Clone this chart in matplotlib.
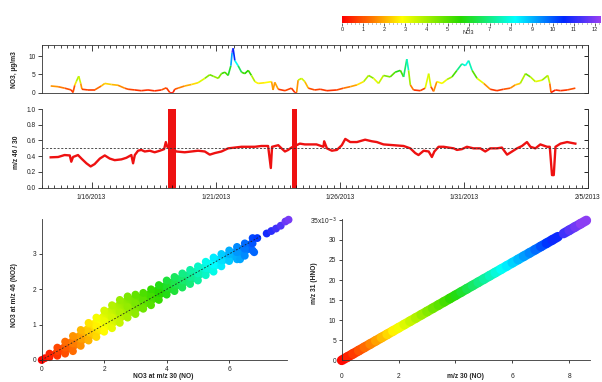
import numpy as np
import matplotlib
matplotlib.use("Agg")
import matplotlib.pyplot as plt
import matplotlib.dates as mdates
from matplotlib.collections import LineCollection
from matplotlib.colors import LinearSegmentedColormap, Normalize
from matplotlib.cm import ScalarMappable
from matplotlib.patches import Polygon
from matplotlib.ticker import MultipleLocator, FixedLocator, FuncFormatter
import datetime as dt

plt.rcParams["font.family"] = ["Liberation Sans", "DejaVu Sans"]

# --- data (day = day of Jan 2013, fractional; 32 = Feb 1) ---
no3_day = [14.35, 14.65, 14.91, 15.18, 15.25, 15.32, 15.38, 15.48, 15.56, 15.61,
           15.85, 16.12, 16.39, 16.53, 16.80, 17.06, 17.33, 17.47, 17.74, 18.00,
           18.27, 18.54, 18.81, 19.01, 19.15, 19.28, 19.35, 19.48, 19.75, 20.02,
           20.29, 20.56, 20.76, 20.90, 21.10, 21.23, 21.37, 21.50, 21.61, 21.66,
           21.70, 21.77, 21.90, 22.04, 22.17, 22.31, 22.44, 22.58, 22.71, 22.98,
           23.25, 23.31, 23.38, 23.52, 23.79, 24.05, 24.19, 24.26, 24.32, 24.46,
           24.59, 24.73, 24.99, 25.21, 25.48, 25.88, 26.15, 26.42, 26.69, 26.96,
           27.16, 27.36, 27.56, 27.76, 28.03, 28.23, 28.44, 28.57, 28.70, 28.77,
           28.84, 28.97, 29.24, 29.44, 29.58, 29.67, 29.78, 29.91, 30.12, 30.32,
           30.52, 30.72, 30.92, 31.06, 31.19, 31.33, 31.53, 31.80, 32.06, 32.33,
           32.60, 32.87, 33.07, 33.27, 33.48, 33.68, 33.88, 34.15, 34.38, 34.46,
           34.51, 34.69, 34.89, 35.16, 35.49]
no3_val = [1.8, 1.6, 1.2, 0.7, 0.0, 2.0, 3.0, 4.5, 2.5, 0.9,
           0.7, 0.7, 1.8, 2.5, 2.2, 2.0, 1.2, 0.9, 0.7, 0.5,
           0.7, 0.45, 0.7, 1.3, 0.0, 0.0, 0.9, 1.2, 1.8, 2.2,
           2.7, 3.9, 4.9, 4.5, 3.9, 5.2, 5.6, 4.7, 7.4, 11.0,
           12.2, 8.8, 7.4, 5.6, 5.2, 6.1, 4.7, 3.0, 2.5, 2.7,
           3.0, 0.7, 2.8, 0.9, 0.5, 1.2, 0.0, 0.0, 3.4, 3.9,
           3.0, 1.2, 0.7, 0.9, 0.5, 0.7, 1.2, 1.6, 2.1, 3.0,
           4.7, 3.9, 2.5, 4.7, 4.3, 5.6, 6.1, 4.3, 9.2, 6.1,
           2.1, 0.7, 0.5, 1.2, 5.2, 1.6, 0.3, 3.0, 2.5, 3.6,
           4.3, 6.1, 7.9, 7.4, 8.8, 6.1, 3.9, 2.5, 0.9, 0.5,
           0.9, 1.2, 2.1, 2.5, 5.2, 4.3, 3.0, 3.4, 4.7, 2.5,
           0.0, 0.7, 0.5, 0.7, 1.2]

ratio_day = [14.35, 14.65, 14.91, 15.12, 15.18, 15.25, 15.45, 15.59, 15.79, 15.96,
             16.12, 16.33, 16.53, 16.73, 16.93, 17.20, 17.40, 17.60, 17.67, 17.74,
             17.87, 18.00, 18.14, 18.34, 18.54, 18.75, 18.92, 18.99, 19.05, 19.42,
             19.75, 20.02, 20.29, 20.56, 20.76, 20.96, 21.23, 21.50, 21.77, 22.04,
             22.31, 22.58, 22.84, 23.11, 23.22, 23.27, 23.52, 23.65, 23.79, 23.92,
             24.05, 24.39, 24.59, 24.86, 25.06, 25.34, 25.37, 25.48, 25.68, 25.88,
             26.08, 26.22, 26.42, 26.69, 27.02, 27.29, 27.49, 27.76, 28.17, 28.57,
             28.84, 29.04, 29.17, 29.38, 29.58, 29.71, 29.81, 29.98, 30.18, 30.38,
             30.59, 30.72, 30.92, 31.12, 31.39, 31.66, 31.86, 32.06, 32.33, 32.53,
             32.74, 32.94, 33.14, 33.34, 33.54, 33.68, 33.88, 34.08, 34.35, 34.46,
             34.55, 34.62, 34.69, 34.89, 35.16, 35.49]
ratio_val = [0.386, 0.39, 0.415, 0.41, 0.33, 0.39, 0.415, 0.37, 0.31, 0.27,
             0.30, 0.37, 0.41, 0.37, 0.35, 0.36, 0.38, 0.415, 0.31, 0.415,
             0.47, 0.48, 0.46, 0.47, 0.45, 0.47, 0.49, 0.58, 0.52, 0.46,
             0.45, 0.46, 0.47, 0.46, 0.42, 0.44, 0.46, 0.50, 0.51, 0.52,
             0.52, 0.52, 0.53, 0.53, 0.25, 0.52, 0.54, 0.50, 0.46, 0.48,
             0.51, 0.56, 0.55, 0.55, 0.55, 0.52, 0.59, 0.50, 0.47, 0.48,
             0.54, 0.62, 0.58, 0.58, 0.61, 0.59, 0.58, 0.55, 0.54, 0.53,
             0.50, 0.44, 0.415, 0.47, 0.46, 0.39, 0.46, 0.52, 0.52, 0.51,
             0.50, 0.48, 0.49, 0.52, 0.50, 0.50, 0.46, 0.50, 0.50, 0.51,
             0.42, 0.46, 0.50, 0.53, 0.58, 0.52, 0.50, 0.55, 0.52, 0.52,
             0.16, 0.16, 0.52, 0.56, 0.58, 0.56]
calib_start = [19.08, 24.09]
calib_end = [19.38, 24.29]
ratio_ref = 0.5
date_ticks = ["2013-01-16", "2013-01-21", "2013-01-26", "2013-01-31", "2013-02-05"]

# NO3 at m/z 30 vs m/z 46: band read at grid of m/z 30 values
mz30_grid = [0.25, 0.5, 0.75, 1.0, 1.25, 1.5, 1.75, 2.0, 2.25, 2.5, 2.75, 3.0, 3.25, 3.5,
             3.75, 4.0, 4.25, 4.5, 4.75, 5.0, 5.25, 5.5, 5.75, 6.0, 6.25, 6.5, 6.75]
mz46_low = [0.08, 0.12, 0.18, 0.25, 0.4, 0.55, 0.65, 0.8, 0.9, 1.05, 1.2, 1.3, 1.45, 1.55,
            1.7, 1.85, 1.95, 2.05, 2.15, 2.25, 2.4, 2.5, 2.65, 2.8, 2.85, 2.95, 3.1]
mz46_mid = [0.13, 0.25, 0.35, 0.47, 0.6, 0.8, 0.95, 1.1, 1.2, 1.35, 1.5, 1.6, 1.7, 1.8,
            1.9, 2.05, 2.15, 2.25, 2.35, 2.45, 2.6, 2.7, 2.82, 3.0, 3.05, 3.15, 3.3]
mz46_high = [0.18, 0.35, 0.52, 0.68, 0.85, 1.05, 1.2, 1.4, 1.55, 1.7, 1.8, 1.85, 1.9, 2.0,
             2.12, 2.25, 2.35, 2.45, 2.55, 2.65, 2.78, 2.9, 3.0, 3.1, 3.2, 3.3, 3.45]
mz30_extra = [0.0, 0.1, 6.35, 6.8, 6.9, 7.2, 7.35, 7.5, 7.65, 7.8, 7.9]
mz46_extra = [0.0, 0.05, 2.85, 3.05, 3.45, 3.58, 3.65, 3.72, 3.8, 3.92, 3.97]
fit_slope = 0.5
fit_x = [0.0, 7.0]

# m/z 31 (HNO) vs m/z 30 (NO)
no_mz30 = [0.0, 0.2, 0.4, 0.6, 0.8, 1.0, 1.2, 1.4, 1.6, 1.8, 2.0, 2.2, 2.4, 2.6, 2.8,
           3.0, 3.2, 3.4, 3.6, 3.8, 4.0, 4.2, 4.4, 4.6, 4.8, 5.0, 5.2, 5.4, 5.6, 5.8,
           6.0, 6.2, 6.4, 6.6, 6.8, 7.0, 7.2, 7.4, 7.6, 7.8, 8.0, 8.2, 8.4, 8.6]
hno_mz31_e3 = [0.0, 0.81, 1.62, 2.43, 3.24, 4.05, 4.86, 5.67, 6.48, 7.29, 8.1, 8.91, 9.72,
               10.53, 11.34, 12.15, 12.96, 13.77, 14.58, 15.39, 16.2, 17.01, 17.82, 18.63,
               19.44, 20.25, 21.06, 21.87, 22.68, 23.49, 24.3, 25.11, 25.92, 26.73, 27.54,
               28.35, 29.16, 29.97, 30.78, 31.59, 32.4, 33.21, 34.02, 34.83]
hno_gap_after = 7.6   # data break between 7.6 and 7.8

# --- style ---
cmap = LinearSegmentedColormap.from_list("igor_rainbow", [
    (0.0, (1.0, 0.0, 0.0)), (0.12, (1.0, 0.5, 0.0)), (0.23, (1.0, 1.0, 0.0)),
    (0.46, (0.15, 0.85, 0.0)), (0.67, (0.0, 1.0, 1.0)), (0.86, (0.0, 0.15, 1.0)),
    (1.0, (0.6, 0.25, 0.95))])
norm = Normalize(0, 12.27)
ink = "#222222"
fs = 4.8

W, H = 602, 382
def box(x0, y0, x1, y1):
    return [x0 / W, 1 - y1 / H, (x1 - x0) / W, (y1 - y0) / H]

t0 = mdates.date2num(dt.datetime(2013, 1, 1)) - 1
t_no3 = t0 + np.array(no3_day)
t_ratio = t0 + np.array(ratio_day)
t_major = [mdates.date2num(dt.datetime.strptime(d, "%Y-%m-%d")) for d in date_ticks]

def datefmt(v, p):
    d = mdates.num2date(v)
    return f"{d.month}/{d.day}/{d.year}"

def style(ax, spines):
    for s in ax.spines:
        ax.spines[s].set_visible(s in spines)
        ax.spines[s].set_linewidth(0.6)
        ax.spines[s].set_color("#333333")
    ax.tick_params(labelsize=fs, colors=ink, width=0.6)

def right_ticks(ax, ticks):
    r = ax.secondary_yaxis("right")
    r.set_yticks(ticks)
    r.tick_params(direction="in", length=3, width=0.6, labelright=False)
    r.spines["right"].set_linewidth(0.6)
    r.spines["right"].set_color("#333333")

fig = plt.figure(figsize=(6.02, 3.82), dpi=100)

# colorbar
cax = fig.add_axes(box(342.3, 16, 600.7, 23))
cb = fig.colorbar(ScalarMappable(norm=norm, cmap=cmap), cax=cax, orientation="horizontal")
cb.outline.set_visible(False)
cb.set_ticks(range(0, 13))
cax.xaxis.set_minor_locator(MultipleLocator(0.2))
cax.tick_params(which="major", labelsize=4, length=2, width=0.5, pad=0.8, colors=ink)
cax.tick_params(which="minor", length=1, width=0.4, colors=ink)
fig.text(468 / W, 1 - 33 / H, "NO3", fontsize=4, color=ink, ha="center", va="center")

# NO3 time series
ax1 = fig.add_axes(box(42, 45, 588, 92.5))
pts = np.column_stack([t_no3, no3_val])
segs = np.stack([pts[:-1], pts[1:]], axis=1)
lc = LineCollection(segs, cmap=cmap, norm=norm, linewidths=1.2)
lc.set_array((np.array(no3_val[:-1]) + np.array(no3_val[1:])) / 2)
ax1.add_collection(lc)
ax1.set_ylim(0, 13.1)
ax1.set_yticks([0, 5, 10])
style(ax1, ["left", "right", "top", "bottom"])
ax1.tick_params(axis="y", direction="out", length=3, pad=1.5)
right_ticks(ax1, [0, 5, 10])

# ratio time series
ax2 = fig.add_axes(box(42, 109, 588, 187.7))
ax2.plot(t_ratio, ratio_val, color="#ee1111", lw=1.7)
for s, e in zip(calib_start, calib_end):
    ax2.axvspan(t0 + s, t0 + e, color="#ee1111", lw=0)
ax2.axhline(ratio_ref, color="#333333", lw=0.6, dashes=(2.5, 2))
ax2.set_ylim(0, 1.0)
ax2.set_yticks(np.arange(0, 1.01, 0.2))
ax2.yaxis.set_major_formatter(FuncFormatter(lambda v, p: f"{v:.1f}"))
style(ax2, ["left", "right", "bottom"])
ax2.tick_params(axis="y", direction="out", length=3, pad=1.5)
right_ticks(ax2, np.arange(0, 1.01, 0.2))

for ax in (ax1, ax2):
    ax.set_xlim(t0 + 14, t0 + 36)
    ax.xaxis.set_major_locator(FixedLocator(t_major))
    ax.xaxis.set_minor_locator(MultipleLocator(0.25))
ax1.tick_params(axis="x", which="both", top=True, bottom=False, labelbottom=False,
                labeltop=False, direction="in")
ax1.tick_params(axis="x", which="major", length=4)
ax1.tick_params(axis="x", which="minor", length=2, width=0.5)
ax2.xaxis.set_major_formatter(FuncFormatter(datefmt))
ax2.tick_params(axis="x", which="both", direction="in")
ax2.tick_params(axis="x", which="major", length=4, pad=4.5)
ax2.tick_params(axis="x", which="minor", length=2, width=0.5)

fig.text(15 / W, 1 - 70 / H, "NO3, µg/m3", rotation=90, fontsize=fs, fontweight="bold",
         color=ink, ha="center", va="center")
fig.text(17 / W, 1 - 152 / H, "m/z 46 / 30", rotation=90, fontsize=fs, fontweight="bold",
         color=ink, ha="center", va="center")

# scatter: NO3 at m/z 30 vs m/z 46 (colour = total NO3)
ax3 = fig.add_axes(box(41.7, 219, 287.3, 360))
xmax3, ymax3 = 7.86, 3.99
gx, gy = np.meshgrid(np.linspace(0, xmax3, 400), np.linspace(0, ymax3, 200))
im = ax3.imshow(gx + gy, extent=(0, xmax3, 0, ymax3), origin="lower", cmap=cmap,
                norm=norm, aspect="auto", interpolation="bilinear")
band = Polygon(np.column_stack([np.r_[0, mz30_grid, mz30_grid[::-1]],
                                np.r_[0, mz46_high, mz46_low[::-1]]]),
               transform=ax3.transData)
im.set_clip_path(band)
sx = np.concatenate([mz30_grid, mz30_grid, mz30_grid, mz30_extra])
sy = np.concatenate([mz46_low, mz46_mid, mz46_high, mz46_extra])
sc = sx + sy
order = np.argsort(sc)
ax3.scatter(sx[order], sy[order], c=sc[order], cmap=cmap, norm=norm, s=32,
            linewidths=0, clip_on=False)
ax3.plot(fit_x, [fit_slope * v for v in fit_x], color="#222222", lw=0.6,
         dashes=(2, 2), zorder=5)
ax3.set_xlim(0, xmax3)
ax3.set_ylim(0, ymax3)
ax3.set_xticks([0, 2, 4, 6])
ax3.set_yticks([0, 1, 2, 3])
style(ax3, ["left", "bottom"])
ax3.tick_params(direction="out", length=2.5, pad=1.5)
fig.text(15 / W, 1 - 295 / H, "NO3 at m/z 46 (NO2)", rotation=90, fontsize=fs,
         fontweight="bold", color=ink, ha="center", va="center")
fig.text(163 / W, 1 - 377 / H, "NO3 at m/z 30 (NO)", fontsize=fs, fontweight="bold",
         color=ink, ha="center", va="center")

# scatter: m/z 31 vs m/z 30
hx = np.array(no_mz30)
hy = np.array(hno_mz31_e3) * 1e-3
hnorm = Normalize(0, 8.62)
hp = np.column_stack([hx, hy])
keep = hx[:-1] != hno_gap_after
hsegs = np.stack([hp[:-1], hp[1:]], axis=1)[keep]
ax4 = fig.add_axes(box(341.7, 219, 590, 360.3))
hlc = LineCollection(hsegs, cmap=cmap, norm=hnorm, linewidths=7, capstyle="round",
                     clip_on=False)
hlc.set_array(((hx[:-1] + hx[1:]) / 2)[keep])
ax4.add_collection(hlc)
ax4.set_xlim(0, 8.73)
ax4.set_ylim(0, 0.0352)
ax4.set_xticks([0, 2, 4, 6, 8])
ax4.set_xticklabels(["0", "2", "", "6", "8"])
yt = np.arange(0, 36, 5) * 1e-3
ax4.set_yticks(yt)
ax4.set_yticklabels([f"{v * 1000:.0f}" for v in yt[:-1]] + ["35x10$^{-3}$"])
style(ax4, ["left", "bottom"])
ax4.tick_params(axis="y", direction="out", length=2.5, pad=1.5)
ax4.tick_params(axis="x", direction="out", length=2.5, pad=6.3)
fig.text(315 / W, 1 - 283 / H, "m/z 31 (HNO)", rotation=90, fontsize=fs,
         fontweight="bold", color=ink, ha="center", va="center")
fig.text(465 / W, 1 - 376 / H, "m/z 30 (NO)", fontsize=fs, fontweight="bold",
         color=ink, ha="center", va="center")

fig.savefig("out.png", dpi=100)
